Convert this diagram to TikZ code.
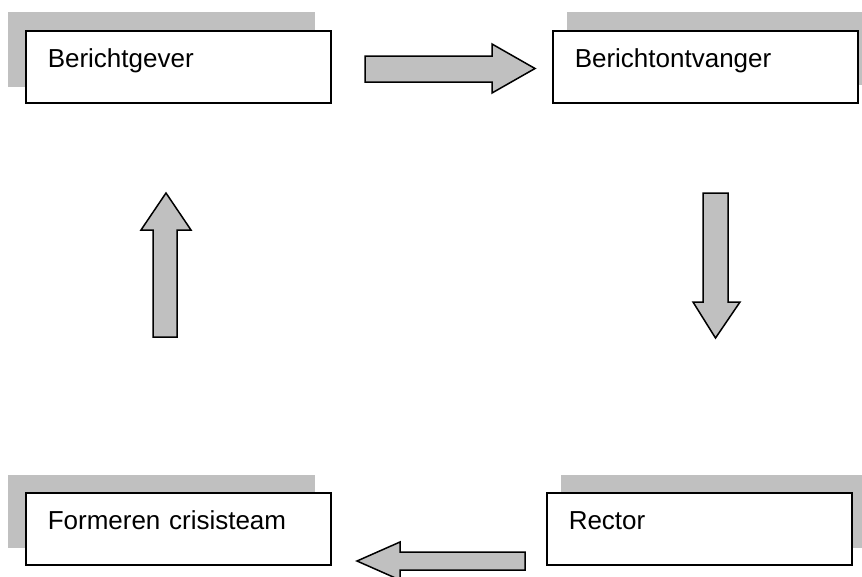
\documentclass[tikz,border=0pt]{standalone}
\usepackage{fontspec}
\setmainfont{Liberation Sans}
\usepackage{tikz}
\definecolor{shade}{RGB}{192,192,192}
\tikzset{
  stepbox/.style={draw, line width=1.5pt, fill=white, anchor=north west,
    text width=261pt, align=left, inner xsep=22pt, inner ysep=0pt,
    text height=37pt, text depth=35pt, font=\fontsize{26}{30}\selectfont},
  boxshadow/.style={fill=shade},
  blockarrow/.style={draw, line width=1.5pt, fill=shade, line join=miter}
}

\begin{document}
\begin{tikzpicture}[x=1pt, y=-1pt]
  \useasboundingbox (0,0) rectangle (862,576);
  \clip (0,0) rectangle (862,576);
  % shadows
  \fill[boxshadow] (8,12) rectangle (315,87);
  \fill[boxshadow] (567,12) rectangle (874,85);
  \fill[boxshadow] (8,475) rectangle (315,548);
  \fill[boxshadow] (561,475) rectangle (868,548);
  % boxes
  \node[stepbox] (gever) at (25,30) {Berichtgever};
  \node[stepbox] (ontvanger) at (552,30) {Berichtontvanger};
  \node[stepbox] (crisis) at (25,492) {Formeren crisisteam};
  \node[stepbox] (rector) at (546,492) {Rector};
  % arrows
  \draw[blockarrow] (365,56) -- (492,56) -- (492,44) -- (535,68.5) -- (492,93) -- (492,82) -- (365,82) -- cycle;
  \draw[blockarrow] (703,193) -- (728,193) -- (728,302) -- (740,302) -- (715.5,338) -- (693,302) -- (703,302) -- cycle;
  \draw[blockarrow] (525,552) -- (400,552) -- (400,542) -- (357,561) -- (400,580) -- (400,570) -- (525,570) -- cycle;
  \draw[blockarrow] (153,337) -- (153,230) -- (141,230) -- (166,193) -- (191,230) -- (177,230) -- (177,337) -- cycle;
\end{tikzpicture}
\end{document}
